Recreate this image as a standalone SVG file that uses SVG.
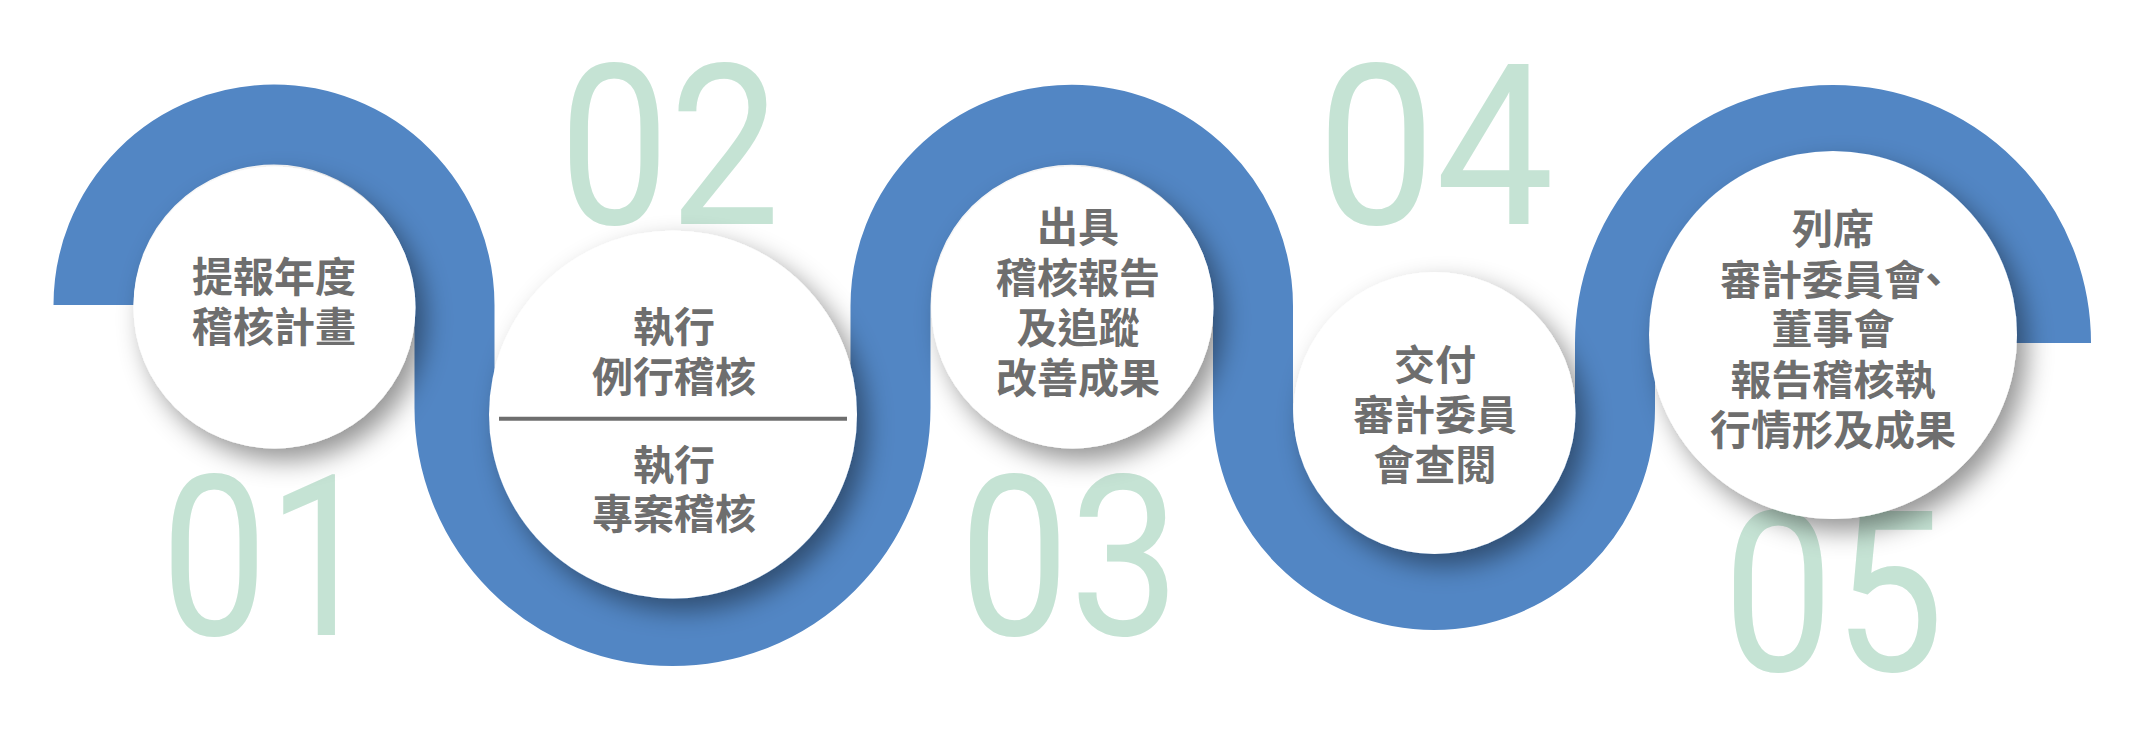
<svg xmlns="http://www.w3.org/2000/svg" width="2144" height="740" viewBox="0 0 2144 740">
  <defs>
    <filter id="shadow" x="-30%" y="-30%" width="160%" height="160%">
      <feDropShadow dx="10" dy="12" stdDeviation="13" flood-color="#000" flood-opacity="0.42"/>
    </filter>
    <style>
      .band { fill: none; stroke: #5286C4; stroke-width: 80; stroke-linecap: butt; }
      .num { font-family: Roboto, "Liberation Sans", sans-serif; font-size: 225px; font-weight: 400; fill: #C5E3D4; }
      .disc { fill: #FFFFFF; filter: url(#shadow); }
      .lbl { font-family: "Noto Sans CJK TC", "Noto Sans CJK SC", sans-serif; font-size: 41px; font-weight: 700; fill: #6E6E6E; text-anchor: middle; }
      .divider { stroke: #6E6E6E; stroke-width: 4; }
    </style>
  </defs>
  <rect width="2144" height="740" fill="#FFFFFF"/>

  <g id="connectors">
    <path class="band" d="M 93.5 305 A 180.5 180.5 0 0 1 454.5 305 L 454.5 408 A 218 218 0 0 0 890.5 408 L 890.5 306 A 181.25 181.25 0 0 1 1253 306 L 1253 409 A 181 181 0 0 0 1615 409 L 1615 343 A 218 218 0 0 1 2051 343"/>
  </g>

  <g id="numbers">
    <text class="num" x="161" y="635" textLength="213" lengthAdjust="spacingAndGlyphs">01</text>
    <text class="num" x="559" y="224" textLength="221" lengthAdjust="spacingAndGlyphs">02</text>
    <text class="num" x="959" y="635" textLength="221" lengthAdjust="spacingAndGlyphs">03</text>
    <text class="num" x="1317" y="224" textLength="237" lengthAdjust="spacingAndGlyphs">04</text>
    <text class="num" x="1723" y="671" textLength="221" lengthAdjust="spacingAndGlyphs">05</text>
  </g>

  <g id="node1">
    <circle class="disc" cx="274.5" cy="307.5" r="141"/>
    <text class="lbl" x="274" y="292">提報年度</text>
    <text class="lbl" x="274" y="342">稽核計畫</text>
  </g>

  <g id="node2">
    <circle class="disc" cx="673" cy="414.5" r="184"/>
    <text class="lbl" x="674" y="342">執行</text>
    <text class="lbl" x="674" y="392">例行稽核</text>
    <line class="divider" x1="499" y1="418.7" x2="847" y2="418.7"/>
    <text class="lbl" x="674" y="480">執行</text>
    <text class="lbl" x="674" y="528.5">專案稽核</text>
  </g>

  <g id="node3">
    <circle class="disc" cx="1072.5" cy="307.5" r="141"/>
    <text class="lbl" x="1078" y="241.5">出具</text>
    <text class="lbl" x="1078" y="292.5">稽核報告</text>
    <text class="lbl" x="1078" y="342.5">及追蹤</text>
    <text class="lbl" x="1078" y="392.5">改善成果</text>
  </g>

  <g id="node4">
    <circle class="disc" cx="1434.5" cy="413" r="141"/>
    <text class="lbl" x="1435" y="380">交付</text>
    <text class="lbl" x="1435" y="430">審計委員</text>
    <text class="lbl" x="1435" y="480">會查閱</text>
  </g>

  <g id="node5">
    <circle class="disc" cx="1833" cy="335" r="184"/>
    <text class="lbl" x="1833" y="244">列席</text>
    <text class="lbl" x="1720" y="294.5" style="text-anchor:start">審計委員會<tspan x="1913">、</tspan></text>
    <text class="lbl" x="1833" y="343.5">董事會</text>
    <text class="lbl" x="1833" y="395">報告稽核執</text>
    <text class="lbl" x="1833" y="445">行情形及成果</text>
  </g>
</svg>
